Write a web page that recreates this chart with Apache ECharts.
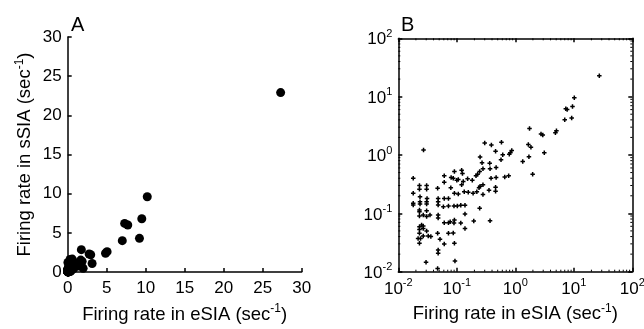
<!DOCTYPE html>
<html><head><meta charset="utf-8">
<script src="https://cdn.jsdelivr.net/npm/echarts@6/dist/echarts.min.js"></script>
<style>html,body{margin:0;padding:0;background:#fff}#c{width:644px;height:329px}</style>
</head><body><div id="c"></div>
<script>
// Firing rate in eSIA (x) and in sSIA (y), same neurons in both panels
const eSIA = [27.3,10.2,7.3,7.7,9.5,7.0,9.2,1.75,2.75,2.95,4.85,5.05,1.67,1.85,3.13,1.71,1.34,0.87,0.82,0.79,
  0.58,0.39,0.30,0.46,0.61,0.57,0.47,0.37,0.25,0.27,1.98,0.365,0.28,0.246,0.227,0.213,0.385,0.47,0.66,0.77,
  0.25,0.24,0.28,0.355,0.46,0.46,0.28,0.22,0.246,0.37,0.195,0.027,0.018,0.061,0.091,0.121,0.080,0.087,0.10,0.106,
  0.129,0.121,0.153,0.184,0.061,0.047,0.079,0.023,0.023,0.0305,0.0305,0.018,0.0235,0.031,0.048,0.061,0.072,0.091,0.106,0.134,
  0.157,0.19,0.018,0.018,0.0235,0.0235,0.0305,0.0305,0.048,0.048,0.059,0.072,0.0895,0.102,0.117,0.138,0.023,0.023,0.0305,0.023,
  0.0267,0.0305,0.0348,0.048,0.048,0.061,0.072,0.077,0.091,0.0895,0.117,0.138,0.023,0.025,0.0267,0.023,0.0267,0.0305,0.023,0.0267,
  0.0218,0.024,0.0325,0.023,0.036,0.047,0.0516,0.061,0.072,0.087,0.091,0.048,0.048,0.0298,0.093,0.047,0.138,0.125];
const sSIA = [22.9,9.6,6.2,6.0,6.8,4.0,4.3,2.85,2.3,2.2,2.4,2.6,1.52,1.36,1.09,0.93,0.77,1.19,1.09,1.03,
  1.65,1.48,1.61,1.16,1.01,0.83,0.61,0.58,0.92,0.74,0.47,0.72,0.58,0.52,0.47,0.44,0.40,0.41,0.42,0.44,
  0.29,0.275,0.31,0.25,0.28,0.24,0.21,0.235,0.122,0.075,0.074,1.22,0.40,0.44,0.52,0.55,0.41,0.40,0.37,0.38,
  0.35,0.31,0.39,0.37,0.34,0.27,0.275,0.30,0.26,0.30,0.26,0.22,0.193,0.18,0.18,0.18,0.18,0.22,0.215,0.235,
  0.23,0.22,0.149,0.139,0.158,0.145,0.158,0.145,0.158,0.139,0.13,0.134,0.134,0.134,0.137,0.137,0.114,0.107,0.111,0.090,
  0.094,0.088,0.094,0.094,0.083,0.069,0.069,0.072,0.077,0.068,0.068,0.055,0.059,0.063,0.061,0.053,0.055,0.050,0.0455,0.041,
  0.037,0.037,0.041,0.0307,0.040,0.0455,0.0359,0.0299,0.0455,0.046,0.0307,0.0236,0.0207,0.0145,0.0152,0.0114,0.097,0.48];

const panelTitles = ['A', 'B'];
const xTitle = 'Firing rate in eSIA (sec';
const yTitle = 'Firing rate in sSIA (sec';
const linTicks = {min: 0, max: 30, interval: 5};
const logRange = {min: 0.01, max: 100};

const FONT = "'Liberation Sans', Arial, sans-serif";
const pts = eSIA.map((x, i) => [x, sSIA[i]]);
const minorVals = [];
for (let e = -2; e < 2; e++) for (let k = 2; k <= 9; k++) minorVals.push(+(k * Math.pow(10, e)).toPrecision(3));

const rich = {
  b: {fontSize: 17, fontFamily: FONT, color: '#000', lineHeight: 20, verticalAlign: 'bottom'},
  s: {fontSize: 11, fontFamily: FONT, color: '#000', lineHeight: 12, verticalAlign: 'top'}
};
const richName = {
  b: {fontSize: 18.5, fontFamily: FONT, color: '#000', lineHeight: 21, verticalAlign: 'bottom'},
  s: {fontSize: 12, fontFamily: FONT, color: '#000', lineHeight: 12, verticalAlign: 'top'}
};
const lineStyle = {color: '#000', width: 1.5};
const nameOf = t => '{b|' + t + '}{s|-1}{b|)}';
const logLabel = v => '{b|10}{s|' + Math.round(Math.log10(v)) + '}';

const chart = echarts.init(document.getElementById('c'), null, {renderer: 'canvas'});
chart.setOption({
  backgroundColor: '#fff',
  animation: false,
  title: [
    {text: panelTitles[0], left: 66, top: 10, textStyle: {fontSize: 20, fontWeight: 'normal', fontFamily: FONT, color: '#000'}},
    {text: panelTitles[1], left: 396, top: 10, textStyle: {fontSize: 20, fontWeight: 'normal', fontFamily: FONT, color: '#000'}}
  ],
  grid: [
    {left: 67.7, top: 37, width: 234, height: 235, outerBoundsMode: 'none'},
    {left: 398.3, top: 38.3, width: 234, height: 233.4, outerBoundsMode: 'none'}
  ],
  xAxis: [
    {type: 'value', gridIndex: 0, min: linTicks.min, max: linTicks.max, interval: linTicks.interval,
     axisLine: {show: true, lineStyle}, axisTick: {show: true, inside: true, length: 4, lineStyle},
     axisLabel: {color: '#000', fontSize: 17, fontFamily: FONT, margin: 8}, splitLine: {show: false},
     name: nameOf(xTitle), nameLocation: 'middle', nameGap: 31, nameTextStyle: {rich: richName}},
    {type: 'log', logBase: 10, gridIndex: 1, min: logRange.min, max: logRange.max,
     axisLine: {show: true, lineStyle}, axisTick: {show: true, inside: true, length: 4, lineStyle},
     axisLabel: {formatter: logLabel, rich, margin: 6}, splitLine: {show: false},
     name: nameOf(xTitle), nameLocation: 'middle', nameGap: 31, nameTextStyle: {rich: richName}},
    {type: 'log', logBase: 10, gridIndex: 1, position: 'top', min: logRange.min, max: logRange.max,
     axisLine: {show: true, lineStyle}, axisTick: {show: true, inside: true, length: 4, lineStyle},
     axisLabel: {show: false}, splitLine: {show: false}}
  ],
  yAxis: [
    {type: 'value', gridIndex: 0, min: linTicks.min, max: linTicks.max, interval: linTicks.interval,
     axisLine: {show: true, lineStyle}, axisTick: {show: true, inside: true, length: 4, lineStyle},
     axisLabel: {color: '#000', fontSize: 17, fontFamily: FONT, margin: 6}, splitLine: {show: false},
     name: nameOf(yTitle), nameLocation: 'middle', nameGap: 33, nameTextStyle: {rich: richName}},
    {type: 'log', logBase: 10, gridIndex: 1, min: logRange.min, max: logRange.max,
     axisLine: {show: true, lineStyle}, axisTick: {show: true, inside: true, length: 4, lineStyle},
     axisLabel: {formatter: logLabel, rich, margin: 6}, splitLine: {show: false}},
    {type: 'log', logBase: 10, gridIndex: 1, position: 'right', min: logRange.min, max: logRange.max,
     axisLine: {show: true, lineStyle}, axisTick: {show: true, inside: true, length: 4, lineStyle},
     axisLabel: {show: false}, splitLine: {show: false}}
  ],
  series: [
    {type: 'scatter', xAxisIndex: 0, yAxisIndex: 0, data: pts, symbol: 'circle', symbolSize: 9,
     itemStyle: {color: '#000', opacity: 1}, silent: true},
    {type: 'scatter', xAxisIndex: 1, yAxisIndex: 1, data: pts,
     symbol: 'path://M1,0H2V1H3V2H2V3H1V2H0V1H1Z', symbolSize: 4.5, itemStyle: {color: '#000', opacity: 1}, silent: true},
    {type: 'custom', xAxisIndex: 1, yAxisIndex: 1, silent: true, clip: false, z: 5,
     data: minorVals.map(v => [v, v]),
     renderItem: (params, api) => {
       const v = api.value(0);
       const bl = api.coord([logRange.min, logRange.min]);
       const tr = api.coord([logRange.max, logRange.max]);
       const px = api.coord([v, logRange.min])[0];
       const py = api.coord([logRange.min, v])[1];
       const L = 2, style = {stroke: '#000', lineWidth: 1};
       return {type: 'group', children: [
         {type: 'line', shape: {x1: px, y1: bl[1], x2: px, y2: bl[1] - L}, style},
         {type: 'line', shape: {x1: px, y1: tr[1], x2: px, y2: tr[1] + L}, style},
         {type: 'line', shape: {x1: bl[0], y1: py, x2: bl[0] + L, y2: py}, style},
         {type: 'line', shape: {x1: tr[0], y1: py, x2: tr[0] - L, y2: py}, style}
       ]};
     }}
  ]
});
</script>
</body></html>
